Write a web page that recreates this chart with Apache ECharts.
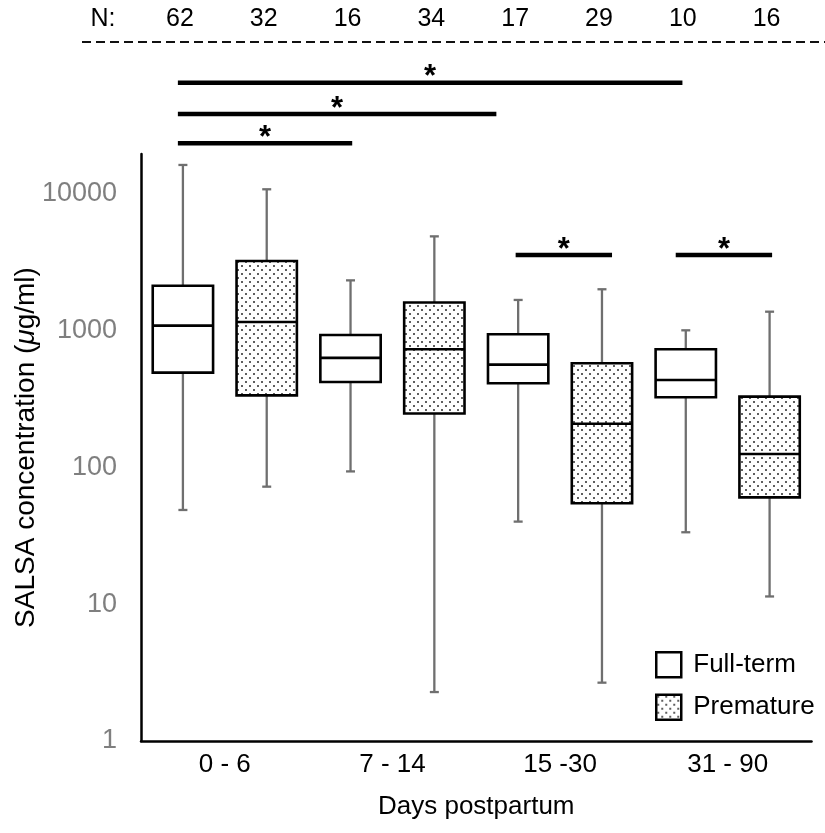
<!DOCTYPE html>
<html>
<head>
<meta charset="utf-8">
<script src="https://cdn.jsdelivr.net/npm/echarts@6/dist/echarts.min.js"></script>
<style>
  html, body { margin: 0; padding: 0; background: #fff; }
  #main { width: 825px; height: 833px; }
</style>
</head>
<body>
<div id="main"></div>
<script>
var chart = echarts.init(document.getElementById('main'));

// data: [low whisker, Q1, median, Q3, high whisker]
var categories = ['0 - 6', '7 - 14', '15 -30', '31 - 90'];
var fullTermStats = [
  [48.9, 494, 1089, 2135, 16300],
  [93.6, 422, 633, 931, 2335],
  [40.2, 413, 565, 942, 1679],
  [33.6, 326, 436, 732, 1007]
];
var prematureStats = [
  [72.4, 337, 1159, 3236, 10820],
  [2.28, 248, 732, 1610, 4898],
  [2.67, 54.7, 209, 578, 2010],
  [11.4, 60.5, 125.6, 329.5, 1378]
];
var fullTermN = [62, 16, 17, 10];
var prematureN = [32, 34, 29, 16];
// significance bars: [from box slot, to box slot, level]
var sigBars = [
  [-0.06, 5.96, 65150],
  [-0.06, 3.74, 38460],
  [-0.06, 2.02, 23490],
  [3.97, 5.12, 3580],
  [5.88, 7.03, 3580]
];

var FONT = 'Liberation Sans, Arial, sans-serif';

// dotted fill for the premature boxes
var tile = document.createElement('canvas');
tile.width = 8; tile.height = 8;
var ctx = tile.getContext('2d');
ctx.fillStyle = '#fff';
ctx.fillRect(0, 0, 8, 8);
ctx.fillStyle = '#2a2a2a';
ctx.beginPath(); ctx.arc(2, 2, 1, 0, Math.PI * 2); ctx.fill();
ctx.beginPath(); ctx.arc(6, 6, 1, 0, Math.PI * 2); ctx.fill();
var dots = { image: tile, repeat: 'repeat' };

function boxRows(stats, counts) {
  return stats.map(function (s, i) {
    return [i].concat(s).concat([counts[i]]);
  });
}

function boxRenderer(side, fill) {
  return function (params, api) {
    var cat = api.value(0);
    var band = api.size([1, 1], [cat, 10])[0];
    var cx = api.coord([cat, 10])[0] + side * band / 4;
    var hw = band * 0.18;
    var yLow = api.coord([cat, api.value(1)])[1];
    var yQ1 = api.coord([cat, api.value(2)])[1];
    var yMed = api.coord([cat, api.value(3)])[1];
    var yQ3 = api.coord([cat, api.value(4)])[1];
    var yHigh = api.coord([cat, api.value(5)])[1];
    var wh = { stroke: '#6f6f6f', lineWidth: 2.3 };
    return {
      type: 'group',
      children: [
        { type: 'line', shape: { x1: cx, y1: yHigh, x2: cx, y2: yQ3 }, style: wh },
        { type: 'line', shape: { x1: cx, y1: yQ1, x2: cx, y2: yLow }, style: wh },
        { type: 'line', shape: { x1: cx - 4.5, y1: yHigh, x2: cx + 4.5, y2: yHigh }, style: wh },
        { type: 'line', shape: { x1: cx - 4.5, y1: yLow, x2: cx + 4.5, y2: yLow }, style: wh },
        { type: 'rect', shape: { x: cx - hw, y: yQ3, width: hw * 2, height: yQ1 - yQ3 },
          style: { fill: fill, stroke: '#000', lineWidth: 2.6 } },
        { type: 'line', shape: { x1: cx - hw, y1: yMed, x2: cx + hw, y2: yMed },
          style: { stroke: '#000', lineWidth: 2.6 } },
        { type: 'text', x: cx - 3, y: 19,
          style: { text: String(api.value(6)), fill: '#000', fontSize: 25, fontFamily: FONT,
                   align: 'center', verticalAlign: 'middle' } }
      ]
    };
  };
}

function sigRenderer(params, api) {
  var band = api.size([1, 1], [0, 10])[0];
  var c0 = api.coord([0, 10])[0];
  var y = api.coord([0, api.value(1)])[1];
  var x1 = c0 + (api.value(2) - 0.5) * band / 2;
  var x2 = c0 + (api.value(3) - 0.5) * band / 2;
  return {
    type: 'group',
    children: [
      { type: 'line', shape: { x1: x1, y1: y, x2: x2, y2: y },
        style: { stroke: '#000', lineWidth: 4.5 } },
      { type: 'text', x: (x1 + x2) / 2, y: y - 5,
        style: { text: '*', fill: '#000', fontSize: 31, fontWeight: 'bold', fontFamily: FONT,
                 align: 'center', verticalAlign: 'middle' } }
    ]
  };
}

var option = {
  backgroundColor: '#fff',
  animation: false,
  textStyle: { fontFamily: FONT },
  grid: { left: 141, right: 13.5, top: 154, bottom: 92, outerBoundsMode: 'none' },
  legend: {
    orient: 'vertical',
    left: 650,
    top: 646,
    itemWidth: 25,
    itemHeight: 25,
    itemGap: 15,
    selectedMode: false,
    textStyle: { fontSize: 26, color: '#000', fontFamily: FONT, padding: [0, 0, 0, 7] },
    data: [
      { name: 'Full-term', icon: 'rect', itemStyle: { color: '#fff', borderColor: '#000', borderWidth: 2.5 } },
      { name: 'Premature', icon: 'rect', itemStyle: { color: dots, borderColor: '#000', borderWidth: 2.5 } }
    ]
  },
  xAxis: {
    type: 'category',
    data: categories,
    name: 'Days postpartum',
    nameLocation: 'middle',
    nameGap: 53,
    nameMoveOverlap: false,
    nameTextStyle: { fontSize: 26, color: '#000', fontFamily: FONT },
    axisLine: { lineStyle: { color: '#000', width: 2.5 } },
    axisTick: { show: false },
    axisLabel: { fontSize: 26, color: '#000', margin: 11, fontFamily: FONT },
    splitLine: { show: false }
  },
  yAxis: {
    type: 'log',
    logBase: 10,
    min: 1,
    max: 19600,
    name: 'SALSA concentration ({i|μ}g/ml)',
    nameLocation: 'middle',
    nameGap: 101,
    nameMoveOverlap: false,
    nameTextStyle: {
      fontSize: 28, color: '#000', fontFamily: FONT,
      rich: { i: { fontSize: 28, fontStyle: 'italic', fontFamily: FONT, color: '#000' } }
    },
    axisLine: { show: true, lineStyle: { color: '#000', width: 2.5 } },
    axisTick: { show: false },
    splitLine: { show: false },
    axisLabel: {
      fontSize: 27, color: '#7f7f7f', margin: 24, fontFamily: FONT,
      showMaxLabel: false,
      formatter: function (v) { return String(Math.round(v)); }
    }
  },
  graphic: [
    { type: 'text', x: 103, y: 19,
      style: { text: 'N:', fill: '#000', fontSize: 25, fontFamily: FONT, align: 'center', verticalAlign: 'middle' } },
    { type: 'line', shape: { x1: 82, y1: 42, x2: 825, y2: 42 },
      style: { stroke: '#111', lineWidth: 2, lineDash: [9, 5] } }
  ],
  series: [
    {
      name: 'Full-term',
      type: 'custom',
      itemStyle: { color: '#fff', borderColor: '#000' },
      renderItem: boxRenderer(-1, '#fff'),
      encode: { x: 0, y: 3 },
      data: boxRows(fullTermStats, fullTermN)
    },
    {
      name: 'Premature',
      type: 'custom',
      itemStyle: { color: dots, borderColor: '#000' },
      renderItem: boxRenderer(1, dots),
      encode: { x: 0, y: 3 },
      data: boxRows(prematureStats, prematureN)
    },
    {
      name: 'significance',
      type: 'custom',
      renderItem: sigRenderer,
      encode: { x: 0, y: 1 },
      data: sigBars.map(function (b) { return [0, b[2], b[0], b[1]]; })
    }
  ]
};

chart.setOption(option);
</script>
</body>
</html>
